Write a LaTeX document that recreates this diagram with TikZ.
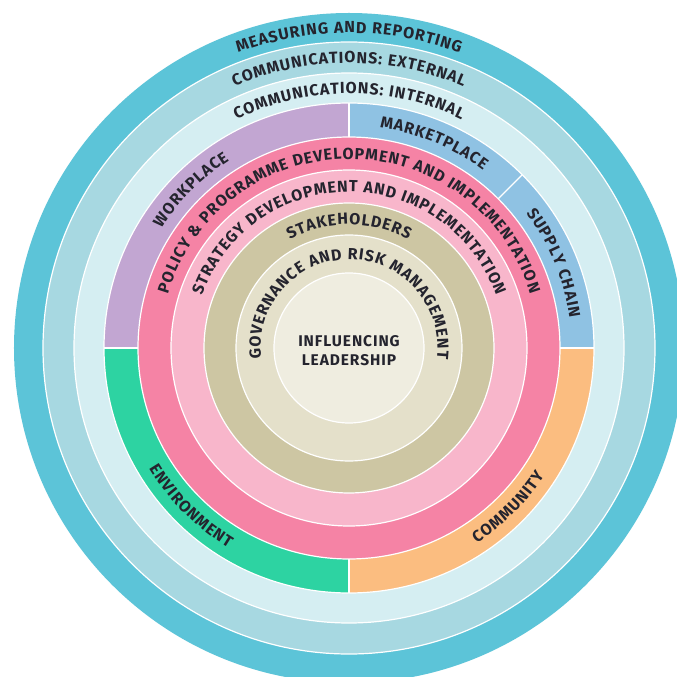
\documentclass[tikz,border=0pt]{standalone}
\usepackage{fontspec}
\setmainfont{Fira Sans}
\usetikzlibrary{decorations.text}
\definecolor{cyanA}{HTML}{5CC4D8}
\definecolor{cyanB}{HTML}{A7D8E1}
\definecolor{cyanC}{HTML}{D5EEF2}
\definecolor{workc}{HTML}{C2A6D2}
\definecolor{marketc}{HTML}{8FC2E3}
\definecolor{envc}{HTML}{2DD3A2}
\definecolor{commc}{HTML}{FBBD80}
\definecolor{pinkA}{HTML}{F583A5}
\definecolor{pinkB}{HTML}{F8B6CB}
\definecolor{tanA}{HTML}{CDC6A3}
\definecolor{tanB}{HTML}{E4E0CA}
\definecolor{tanC}{HTML}{EFEDE0}
\definecolor{txtc}{HTML}{24242E}
\tikzset{
  sep/.style={draw=white, line width=1.2pt},
  ringfont/.style={font=\bfseries\fontsize{16}{18}\selectfont}
}
\newcommand{\ringtext}[4]{%
  \path[ringfont, decorate, decoration={text effects along path, text={#4}, text align=center,
     text effects/.cd, text along path, character widths={inner xsep=0.45pt},
     characters={text=txtc}}]
     (#2:#1) arc[start angle=#2, end angle=#3, radius=#1];}
\begin{document}
\begin{tikzpicture}[x=1pt, y=1pt]
\useasboundingbox (-349,-329) rectangle (328,348);
\fill[white] (-349,-329) rectangle (328,348);
\clip (-349,-329) rectangle (328,348);
% rings
\fill[cyanA] (0,0) circle[radius=335];
\fill[cyanB] (0,0) circle[radius=306];
\fill[cyanC] (0,0) circle[radius=275];
% quadrant sectors
\fill[workc] (0,0) -- (90:245) arc[start angle=90, end angle=180, radius=245] -- cycle;
\fill[envc] (0,0) -- (180:245) arc[start angle=180, end angle=270, radius=245] -- cycle;
\fill[commc] (0,0) -- (270:245) arc[start angle=270, end angle=360, radius=245] -- cycle;
\fill[marketc] (0,0) -- (0:245) arc[start angle=0, end angle=90, radius=245] -- cycle;
\fill[pinkA] (0,0) circle[radius=211];
\fill[pinkB] (0,0) circle[radius=178];
\fill[tanA] (0,0) circle[radius=145];
\fill[tanB] (0,0) circle[radius=113];
\fill[tanC] (0,0) circle[radius=75];
% separators
\foreach \r in {306,275,245,211,178,145,113,75} \draw[sep] (0,0) circle[radius=\r];
\foreach \a in {0,45,90,180,270} \draw[sep] (\a:211) -- (\a:245);
% ring texts
\ringtext{315}{270}{-90}{MEASURING AND REPORTING}
\ringtext{285}{270}{-90}{COMMUNICATIONS: EXTERNAL}
\ringtext{254.5}{270}{-90}{COMMUNICATIONS: INTERNAL}
\ringtext{222.5}{90}{45}{MARKETPLACE}
\ringtext{222.5}{45}{0}{SUPPLY CHAIN}
\ringtext{222.5}{180}{90}{WORKPLACE}
\ringtext{233.5}{180}{270}{ENVIRONMENT}
\ringtext{233.5}{270}{360}{COMMUNITY}
\ringtext{189}{270}{-90}{POLICY {\&} PROGRAMME DEVELOPMENT AND IMPLEMENTATION}
\ringtext{156}{270}{-90}{STRATEGY DEVELOPMENT AND IMPLEMENTATION}
\ringtext{123.5}{270}{-90}{STAKEHOLDERS}
\ringtext{88.5}{270}{-90}{GOVERNANCE AND RISK MANAGEMENT}
\node[font=\bfseries\fontsize{15.5}{17}\selectfont\addfontfeature{LetterSpace=6}, text=txtc, align=center] (centre) at (0,-3) {INFLUENCING\\[2pt]LEADERSHIP};
\end{tikzpicture}
\end{document}
